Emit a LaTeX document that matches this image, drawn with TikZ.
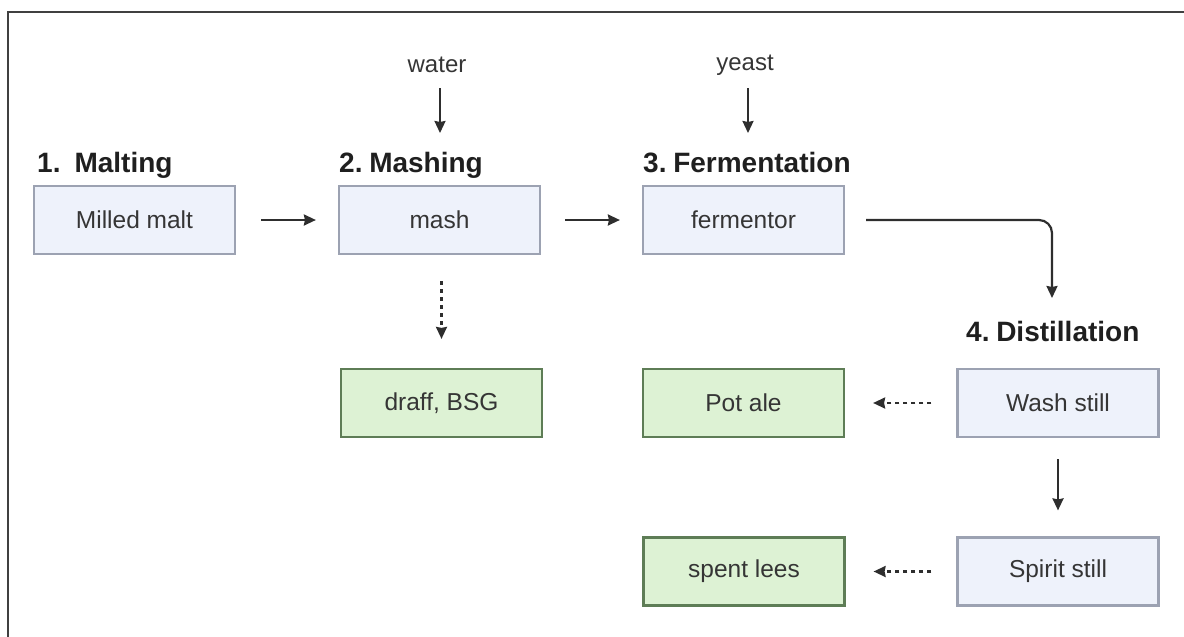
\documentclass[tikz,border=0pt]{standalone}
\usepackage{fontspec}
\setmainfont{Liberation Sans}
\usetikzlibrary{arrows.meta}
\definecolor{bluefill}{HTML}{EEF2FB}
\definecolor{blueline}{HTML}{9CA2B2}
\definecolor{greenfill}{HTML}{DDF2D4}
\definecolor{greenline}{HTML}{5E7D56}
\definecolor{txt}{HTML}{353535}
\definecolor{arr}{HTML}{2E2E2E}
\tikzset{
  procbox/.style={draw=blueline, fill=bluefill, line width=2.2pt, minimum width=201pt, minimum height=68pt, inner sep=0pt, text=txt, font=\fontsize{24.5}{28}\selectfont},
  wastebox/.style={draw=greenline, fill=greenfill, line width=2.2pt, minimum width=201pt, minimum height=68pt, inner sep=0pt, text=txt, font=\fontsize{24.5}{28}\selectfont},
  heading/.style={anchor=base west, inner sep=0pt, text=black!88, font=\fontsize{28}{32}\selectfont\bfseries},
  inlabel/.style={inner sep=0pt, text=txt, font=\fontsize{24}{28}\selectfont},
  flow/.style={draw=arr, line width=2.2pt, -{Stealth[length=12pt,width=11pt,inset=1pt]}},
  sideflow/.style={draw=arr, line width=2.2pt, dash pattern=on 4pt off 4pt, -{Stealth[length=12pt,width=11pt,inset=1pt]}}
}
\begin{document}
\begin{tikzpicture}[x=1pt,y=-1pt]
\useasboundingbox (0,0) rectangle (1184,637);
% frame
\draw[line width=2.4pt, black!75] (8,645) -- (8,12) -- (1192,12);
% boxes
\node[procbox] (malt) at (134.5,220) {Milled malt};
\node[procbox] (mash) at (439.5,220) {mash};
\node[procbox] (ferm) at (743.5,220) {fermentor};
\node[procbox] (wash) at (1058,403) {Wash still};
\node[procbox] (spirit) at (1058,571.5) {Spirit still};
\node[wastebox] (draff) at (441.5,403) {draff, BSG};
\node[wastebox] (potale) at (743.5,403) {Pot ale};
\node[wastebox] (lees) at (744,571.5) {spent lees};
% headings
\node[heading] (h1) at (37,172) {1.\hspace{0.5em}Malting};
\node[heading] (h2) at (339,172) {2.\hspace{0.24em}Mashing};
\node[heading] (h3) at (643,172) {3.\hspace{0.24em}Fermentation};
\node[heading] (h4) at (966,341) {4.\hspace{0.24em}Distillation};
% inputs
\node[inlabel] (water) at (437,65) {water};
\node[inlabel] (yeast) at (745,65) {yeast};
\coordinate (wend) at (440,133);
\coordinate (yend) at (748,133);
\coordinate (dend) at (1052,298);
% connectors
\draw[flow] (440,88) -- (wend);
\draw[flow] (748,88) -- (yend);
\draw[flow, shorten <=25pt, shorten >=22pt] (malt.east) -- (mash.west);
\draw[flow, shorten <=24pt, shorten >=22pt] (mash.east) -- (ferm.west);
\draw[flow, rounded corners=13pt, shorten <=21pt] (ferm.east) -| (dend);
\draw[flow, shorten <=21pt, shorten >=26pt] (wash.south) -- (spirit.north);
\draw[sideflow, shorten <=26pt, shorten >=29pt] (mash.south -| draff.north) -- (draff.north);
\draw[sideflow, shorten <=25pt, shorten >=28pt] (wash.west) -- (potale.east);
\draw[sideflow, shorten <=25pt, shorten >=28pt] (spirit.west) -- (lees.east);
\end{tikzpicture}
\end{document}
